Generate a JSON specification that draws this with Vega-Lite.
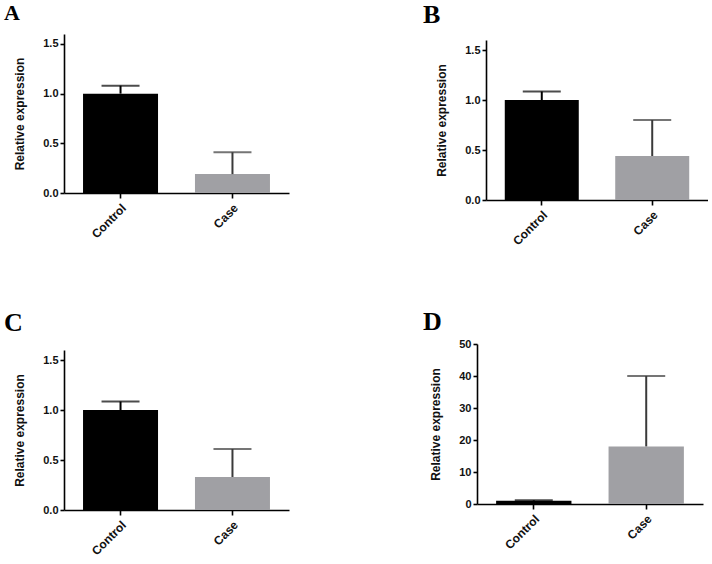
{
  "$schema": "https://vega.github.io/schema/vega-lite/v6.json",
  "padding": {"left": 4, "top": 2, "right": 0, "bottom": 0},
  "background": "white",
  "datasets": {
    "expr": [
      {"panel": "A", "group": "Control", "mean": 1.0, "upper": 1.08},
      {"panel": "A", "group": "Case", "mean": 0.19, "upper": 0.41},
      {"panel": "B", "group": "Control", "mean": 1.0, "upper": 1.085},
      {"panel": "B", "group": "Case", "mean": 0.44, "upper": 0.8},
      {"panel": "C", "group": "Control", "mean": 1.0, "upper": 1.085},
      {"panel": "C", "group": "Case", "mean": 0.33, "upper": 0.61},
      {"panel": "D", "group": "Control", "mean": 1.0, "upper": 1.2},
      {"panel": "D", "group": "Case", "mean": 18.0, "upper": 40.0}
    ]
  },
  "config": {
    "view": {"stroke": null},
    "axis": {
      "domainColor": "black",
      "domainWidth": 1.6,
      "tickColor": "black",
      "tickWidth": 1.6,
      "tickSize": 4,
      "labelFont": "Liberation Sans",
      "labelFontWeight": "bold",
      "labelFontSize": 11,
      "labelColor": "#111",
      "titleFont": "Liberation Sans",
      "titleFontWeight": "bold",
      "titleFontSize": 12,
      "titleColor": "#111",
      "grid": false
    },
    "axisX": {"labelFontSize": 12},
    "axisY": {"labelOverlap": false, "labelSeparation": 0},
    "title": {"font": "Liberation Serif", "fontWeight": "bold", "color": "black", "anchor": "start", "frame": "group"}
  },
  "columns": 2,
  "align": {"row": "all", "column": "none"},
  "spacing": {"column": 134, "row": 62},
  "concat": [
    {
      "data": {"name": "expr"},
      "transform": [{"filter": "datum.panel === 'A'"}],
      "title": {"text": "A", "fontSize": 22, "dx": -60, "offset": 9},
      "width": 225, "height": 159,
      "encoding": {
        "x": {"field": "group", "type": "nominal", "sort": ["Control", "Case"], "scale": {"paddingInner": 0.33, "paddingOuter": 0.17},
              "axis": {"title": null, "labelAngle": -45, "labelPadding": 4, "tickSize": 5}}
      },
      "layer": [
        {"mark": {"type": "bar"},
         "encoding": {"y": {"field": "mean", "type": "quantitative", "scale": {"domain": [0, 1.5]},
                            "axis": {"title": "Relative expression", "values": [0, 0.5, 1, 1.5], "format": ".1f", "titlePadding": 16, "labelOverlap": false}},
                      "fill": {"field": "group", "type": "nominal", "scale": {"domain": ["Control", "Case"], "range": ["#000000", "#a0a0a4"]}, "legend": null}}},
        {"mark": {"type": "rule", "strokeWidth": 2},
         "encoding": {"y": {"field": "mean", "type": "quantitative", "axis": {"title": "Relative expression", "values": [0, 0.5, 1, 1.5], "format": ".1f", "titlePadding": 16, "labelOverlap": false}}, "y2": {"field": "upper"},
                      "color": {"field": "group", "type": "nominal", "scale": {"domain": ["Control", "Case"], "range": ["#000000", "#3a3a3a"]}, "legend": null}}},
        {"mark": {"type": "tick", "thickness": 2, "size": 38},
         "encoding": {"y": {"field": "upper", "type": "quantitative", "axis": {"title": "Relative expression", "values": [0, 0.5, 1, 1.5], "format": ".1f", "titlePadding": 16, "labelOverlap": false}},
                      "color": {"field": "group", "type": "nominal", "scale": {"domain": ["Control", "Case"], "range": ["#000000", "#3a3a3a"]}, "legend": null}}}
      ]
    },
    {
      "data": {"name": "expr"},
      "transform": [{"filter": "datum.panel === 'B'"}],
      "title": {"text": "B", "fontSize": 26, "dx": -63, "offset": 6},
      "width": 222, "height": 166,
      "encoding": {
        "x": {"field": "group", "type": "nominal", "sort": ["Control", "Case"], "scale": {"paddingInner": 0.33, "paddingOuter": 0.17},
              "axis": {"title": null, "labelAngle": -45, "labelPadding": 4, "tickSize": 5}}
      },
      "layer": [
        {"mark": {"type": "bar"},
         "encoding": {"y": {"field": "mean", "type": "quantitative", "scale": {"domain": [0, 1.5], "range": [166, 6]},
                            "axis": {"title": "Relative expression", "values": [0, 0.5, 1, 1.5], "format": ".1f", "titlePadding": 16, "labelOverlap": false}},
                      "fill": {"field": "group", "type": "nominal", "scale": {"domain": ["Control", "Case"], "range": ["#000000", "#a0a0a4"]}, "legend": null}}},
        {"mark": {"type": "rule", "strokeWidth": 2},
         "encoding": {"y": {"field": "mean", "type": "quantitative", "axis": {"title": "Relative expression", "values": [0, 0.5, 1, 1.5], "format": ".1f", "titlePadding": 16, "labelOverlap": false}}, "y2": {"field": "upper"},
                      "color": {"field": "group", "type": "nominal", "scale": {"domain": ["Control", "Case"], "range": ["#000000", "#3a3a3a"]}, "legend": null}}},
        {"mark": {"type": "tick", "thickness": 2, "size": 38},
         "encoding": {"y": {"field": "upper", "type": "quantitative", "axis": {"title": "Relative expression", "values": [0, 0.5, 1, 1.5], "format": ".1f", "titlePadding": 16, "labelOverlap": false}},
                      "color": {"field": "group", "type": "nominal", "scale": {"domain": ["Control", "Case"], "range": ["#000000", "#3a3a3a"]}, "legend": null}}}
      ]
    },
    {
      "data": {"name": "expr"},
      "transform": [{"filter": "datum.panel === 'C'"}],
      "title": {"text": "C", "fontSize": 26, "dx": -60, "offset": 8},
      "width": 225, "height": 166,
      "encoding": {
        "x": {"field": "group", "type": "nominal", "sort": ["Control", "Case"], "scale": {"paddingInner": 0.33, "paddingOuter": 0.17},
              "axis": {"title": null, "labelAngle": -45, "labelPadding": 4, "tickSize": 5}}
      },
      "layer": [
        {"mark": {"type": "bar"},
         "encoding": {"y": {"field": "mean", "type": "quantitative", "scale": {"domain": [0, 1.5], "range": [166, 6]},
                            "axis": {"title": "Relative expression", "values": [0, 0.5, 1, 1.5], "format": ".1f", "titlePadding": 16, "labelOverlap": false}},
                      "fill": {"field": "group", "type": "nominal", "scale": {"domain": ["Control", "Case"], "range": ["#000000", "#a0a0a4"]}, "legend": null}}},
        {"mark": {"type": "rule", "strokeWidth": 2},
         "encoding": {"y": {"field": "mean", "type": "quantitative", "axis": {"title": "Relative expression", "values": [0, 0.5, 1, 1.5], "format": ".1f", "titlePadding": 16, "labelOverlap": false}}, "y2": {"field": "upper"},
                      "color": {"field": "group", "type": "nominal", "scale": {"domain": ["Control", "Case"], "range": ["#000000", "#3a3a3a"]}, "legend": null}}},
        {"mark": {"type": "tick", "thickness": 2, "size": 38},
         "encoding": {"y": {"field": "upper", "type": "quantitative", "axis": {"title": "Relative expression", "values": [0, 0.5, 1, 1.5], "format": ".1f", "titlePadding": 16, "labelOverlap": false}},
                      "color": {"field": "group", "type": "nominal", "scale": {"domain": ["Control", "Case"], "range": ["#000000", "#3a3a3a"]}, "legend": null}}}
      ]
    },
    {
      "data": {"name": "expr"},
      "transform": [{"filter": "datum.panel === 'D'"}],
      "title": {"text": "D", "fontSize": 26, "dx": -54, "offset": 3},
      "width": 226, "height": 160,
      "encoding": {
        "x": {"field": "group", "type": "nominal", "sort": ["Control", "Case"], "scale": {"paddingInner": 0.33, "paddingOuter": 0.17},
              "axis": {"title": null, "labelAngle": -45, "labelPadding": 4, "tickSize": 5}}
      },
      "layer": [
        {"mark": {"type": "bar"},
         "encoding": {"y": {"field": "mean", "type": "quantitative", "scale": {"domain": [0, 50]},
                            "axis": {"title": "Relative expression", "values": [0, 10, 20, 30, 40, 50], "tickCount": 6, "format": "d", "titlePadding": 16, "labelOverlap": false}},
                      "fill": {"field": "group", "type": "nominal", "scale": {"domain": ["Control", "Case"], "range": ["#000000", "#a0a0a4"]}, "legend": null}}},
        {"mark": {"type": "rule", "strokeWidth": 2},
         "encoding": {"y": {"field": "mean", "type": "quantitative", "axis": {"title": "Relative expression", "values": [0, 10, 20, 30, 40, 50], "tickCount": 6, "format": "d", "titlePadding": 16, "labelOverlap": false}}, "y2": {"field": "upper"},
                      "color": {"field": "group", "type": "nominal", "scale": {"domain": ["Control", "Case"], "range": ["#000000", "#3a3a3a"]}, "legend": null}}},
        {"mark": {"type": "tick", "thickness": 2, "size": 38},
         "encoding": {"y": {"field": "upper", "type": "quantitative", "axis": {"title": "Relative expression", "values": [0, 10, 20, 30, 40, 50], "tickCount": 6, "format": "d", "titlePadding": 16, "labelOverlap": false}},
                      "color": {"field": "group", "type": "nominal", "scale": {"domain": ["Control", "Case"], "range": ["#000000", "#3a3a3a"]}, "legend": null}}}
      ]
    }
  ],
  "resolve": {"scale": {"color": "independent", "fill": "independent"}}
}
